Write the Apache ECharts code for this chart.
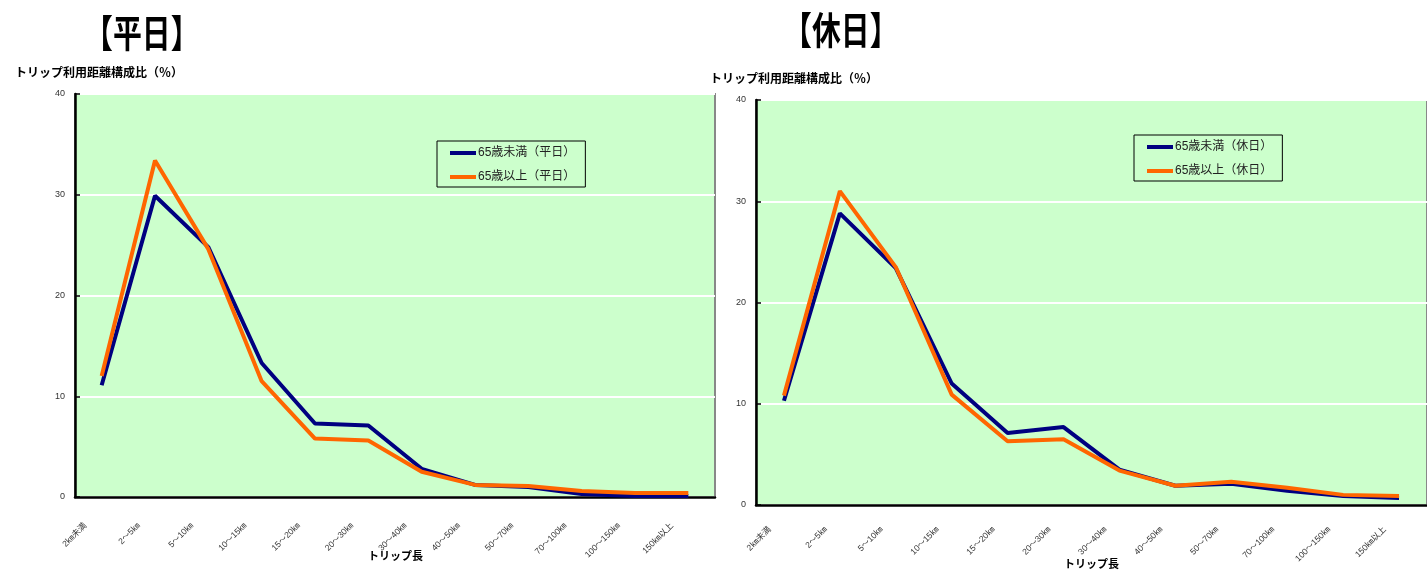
<!DOCTYPE html>
<html>
<head>
<meta charset="utf-8">
<script src="https://cdn.jsdelivr.net/npm/echarts@6/dist/echarts.min.js"></script>
<style>
  html, body { margin: 0; padding: 0; background: #fff; }
  #chart { width: 1427px; height: 574px; }
</style>
</head>
<body>
<div id="chart"></div>
<script>
// Trip length classes
const categories = ['2㎞未満', '2～5㎞', '5～10㎞', '10～15㎞', '15～20㎞', '20～30㎞',
  '30～40㎞', '40～50㎞', '50～70㎞', '70～100㎞', '100～150㎞', '150㎞以上'];

// Share of trips by distance (%), weekdays
const weekdayUnder65 = [11.1, 29.9, 24.8, 13.3, 7.3, 7.1, 2.8, 1.2, 1.0, 0.3, 0.1, 0.1];
const weekdayOver65  = [12.0, 33.4, 24.6, 11.5, 5.8, 5.6, 2.5, 1.2, 1.1, 0.6, 0.4, 0.4];

// Share of trips by distance (%), holidays
const holidayUnder65 = [10.3, 28.8, 23.4, 12.0, 7.1, 7.7, 3.5, 1.9, 2.1, 1.4, 0.9, 0.7];
const holidayOver65  = [10.8, 31.0, 23.5, 10.9, 6.3, 6.5, 3.4, 1.9, 2.3, 1.7, 1.0, 0.9];

const yTicks = { min: 0, max: 40, interval: 10 };

const seriesNames = ['65歳未満（平日）', '65歳以上（平日）', '65歳未満（休日）', '65歳以上（休日）'];

const FONT = "'Liberation Sans', 'Noto Sans CJK JP', sans-serif";
const NAVY = '#000080';
const ORANGE = '#FF6600';

const chart = echarts.init(document.getElementById('chart'), null, { renderer: 'canvas' });

function xAxisFor(gridIndex, pad, margin) {
  return {
    type: 'category', gridIndex, data: categories, boundaryGap: true,
    axisLine: { lineStyle: { color: '#000', width: 2.5 } },
    axisTick: { inside: true, length: 4, lineStyle: { color: '#000', width: 1.5 }, alignWithLabel: false },
    axisLabel: { interval: 0, rotate: 45, fontSize: 8.5, color: '#333', fontFamily: FONT,
      margin, padding: [0, pad, 0, 0] },
    splitLine: { show: false }
  };
}
function yAxisFor(gridIndex) {
  return {
    type: 'value', gridIndex, min: yTicks.min, max: yTicks.max, interval: yTicks.interval,
    axisLine: { show: true, lineStyle: { color: '#000', width: 2.5 } },
    axisTick: { show: true, inside: true, length: 5, lineStyle: { color: '#000', width: 1.5 } },
    axisLabel: { fontSize: 9, color: '#333', fontFamily: FONT, margin: 10 },
    splitLine: { lineStyle: { color: '#fff', width: 2 } }
  };
}
function lineSeries(name, data, color, idx) {
  return {
    name, type: 'line', data, xAxisIndex: idx, yAxisIndex: idx,
    showSymbol: false, symbol: 'none', lineStyle: { color, width: 4 }, itemStyle: { color },
    animation: false
  };
}
function legendFor(names, left, top) {
  return {
    data: names, orient: 'vertical', left, top,
    backgroundColor: '#ccffcc', borderColor: '#000', borderWidth: 1,
    padding: [6, 10, 4, 13], itemGap: 12, itemWidth: 26, itemHeight: 4,
    icon: 'rect', selectedMode: false,
    textStyle: { fontSize: 12, color: '#222', fontFamily: FONT, padding: [0, 0, 0, -3] }
  };
}
function label(text, x, y, size, opts) {
  return Object.assign({
    type: 'text', x, y, silent: true,
    style: { text, font: `bold ${size}px ${FONT}`, fill: '#000', textAlign: 'left', textVerticalAlign: 'middle' }
  }, opts || {});
}

chart.setOption({
  animation: false,
  backgroundColor: '#fff',
  grid: [
    { left: 75, top: 94, width: 640, height: 403, show: true, backgroundColor: '#ccffcc', borderColor: '#888', borderWidth: 2 },
    { left: 756, top: 100, width: 672, height: 405, show: true, backgroundColor: '#ccffcc', borderColor: '#888', borderWidth: 2 }
  ],
  xAxis: [xAxisFor(0, 23, 11), xAxisFor(1, 20, 9)],
  yAxis: [yAxisFor(0), yAxisFor(1)],
  legend: [
    legendFor([seriesNames[0], seriesNames[1]], 437, 141),
    legendFor([seriesNames[2], seriesNames[3]], 1134, 135)
  ],
  series: [
    lineSeries(seriesNames[0], weekdayUnder65, NAVY, 0),
    lineSeries(seriesNames[1], weekdayOver65, ORANGE, 0),
    lineSeries(seriesNames[2], holidayUnder65, NAVY, 1),
    lineSeries(seriesNames[3], holidayOver65, ORANGE, 1)
  ],
  graphic: [
    label('【平日】', 84, 37, 38, { scaleX: 0.76 }),
    label('【休日】', 783, 34, 38, { scaleX: 0.76 }),
    label('トリップ利用距離構成比（％）', 15, 74, 12),
    label('トリップ利用距離構成比（％）', 710, 80, 12),
    label('トリップ長', 368, 557, 11),
    label('トリップ長', 1064, 565, 11)
  ]
});
</script>
</body>
</html>
